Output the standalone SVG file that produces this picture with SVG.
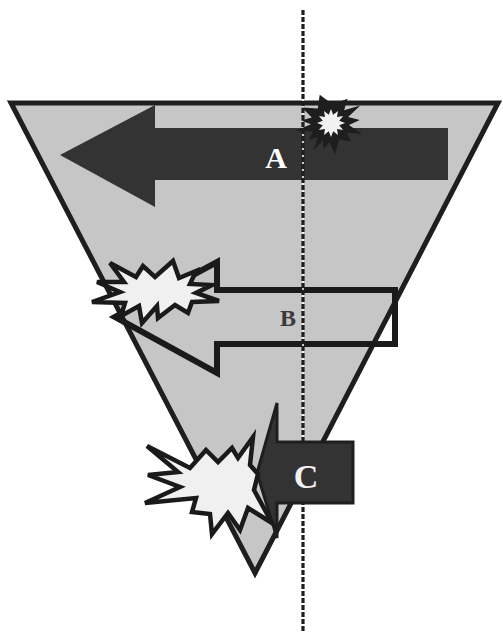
<svg xmlns="http://www.w3.org/2000/svg" width="503" height="632" viewBox="0 0 503 632">
<style>
.lbl{font-family:"Liberation Serif","Times New Roman",serif;font-weight:bold;text-anchor:middle}
.burst{fill:#f0f0f0;stroke:#1a1a1a;stroke-width:4.5;stroke-linejoin:miter}
</style>
<rect width="503" height="632" fill="#ffffff"/>
<g id="funnel">
<polygon points="11,103 498,103 255,573" fill="#c6c6c6" stroke="#1e1e1e" stroke-width="5" stroke-miterlimit="10"/>
</g>
<g id="arrowA">
<polygon points="60,155 155,105 155,128 448,128 448,180 155,180 155,207" fill="#333333"/>
<text class="lbl" x="276" y="168" font-size="30" fill="#ffffff">A</text>
</g>
<g id="arrowB">
<polygon points="115,317 217,262 217,290 395,290 395,344 217,344 217,373" fill="none" stroke="#1a1a1a" stroke-width="6"/>
<text class="lbl" x="288" y="326" font-size="24" fill="#3a3a3a">B</text>
</g>
<g id="connectors">
<line x1="303" y1="10" x2="303" y2="632" stroke="#ffffff" stroke-width="1.5"/>
<line x1="303" y1="10" x2="303" y2="632" stroke="#1e1e1e" stroke-width="3.2" stroke-dasharray="5 2"/>
</g>
<g id="burstA">
<polygon points="319.7,94.8 332.6,104.2 347.6,98.7 344.1,110.3 360.3,105.5 348.1,117.1 359.8,119.9 348.9,125 362.1,134.1 346.5,132.5 351.1,141.4 339.2,139.6 335,154.6 329.3,142 323.5,149.2 322.9,140.6 313.5,150.4 317.5,137.3 309,140 312.9,131.3 294.9,131.1 311,124.3 301.1,120.5 311.8,117.4 302,107.5 317.8,108.4" fill="#1e1e1e"/>
<polygon points="331,109 333.2,114.8 338,110.9 337,117 343.1,116 339.2,120.8 345,123 339.2,125.2 343.1,130 337,129 338,135.1 333.2,131.2 331,137 328.8,131.2 324,135.1 325,129 318.9,130 322.8,125.2 317,123 322.8,120.8 318.9,116 325,117 324,110.9 328.8,114.8" fill="#f2f2f2"/>
</g>
<g id="burstB">
<polygon class="burst" points="92,302 120,292 97,282 124,282 110,263 136,277 143,266 155,277 173,261 179,278 196,271 190,284 212,285 196,293 219,301 192,302 188,313 175,305 158,318 157,306 142,323 139,306 121,316 125,303"/>
</g>
<g id="arrowC">
<polygon points="353,442 277,442 277,403 257,473 277,538 277,503 353,503" fill="#333333" stroke="#1e1e1e" stroke-width="3"/>
<text class="lbl" x="306" y="488" font-size="34" fill="#f2f2f2">C</text>
</g>
<g id="burstC">
<polygon class="burst" points="147,446 190,468 206,450 218,462 232,448 238,458 253,437 250,465 258,474 254,490 272,523 248,508 240,530 228,513 212,534 210,514 192,512 196,498 145,503 180,487 148,475 178,472"/>
</g>
</svg>
